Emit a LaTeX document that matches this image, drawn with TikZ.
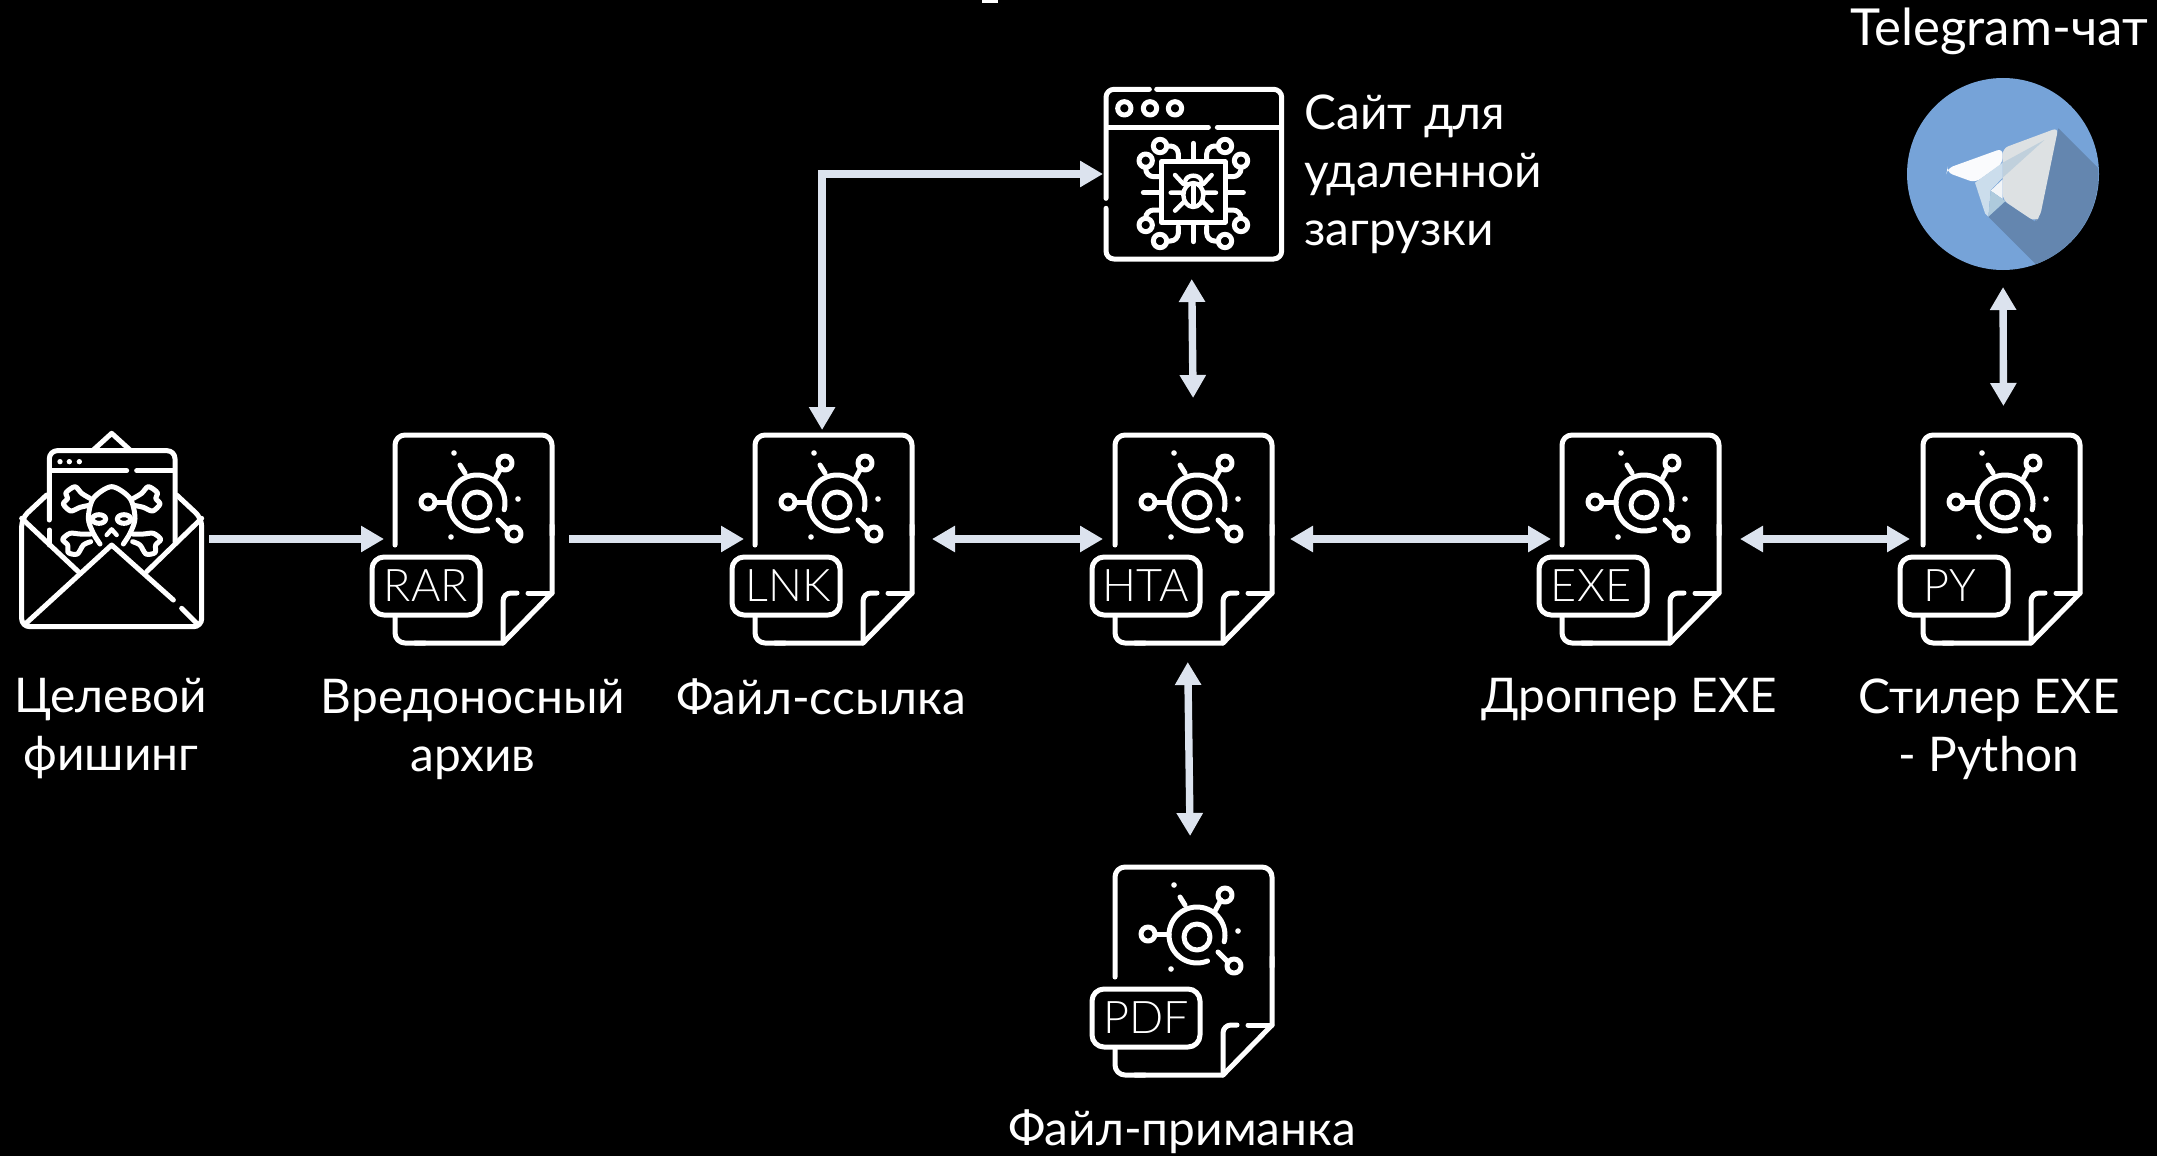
\documentclass[tikz,border=0pt]{standalone}
\usepackage{fontspec}
\usetikzlibrary{arrows.meta}
\setmainfont{Lato}
\newfontfamily\lightf{Lato Light}
\definecolor{flowc}{HTML}{DCE3EE}
\definecolor{tgblue}{HTML}{76A3D8}
\definecolor{tgshadow}{HTML}{6486AF}
\definecolor{tgA}{HTML}{DDE1E3}
\definecolor{tgB}{HTML}{C0D0DC}
\definecolor{tgC}{HTML}{CBDDEC}
\definecolor{tgD}{HTML}{F2F5F8}
\definecolor{tgE}{HTML}{AECADC}
\tikzset{
  ink/.style={draw=white,line width=2.5pt,line cap=round,line join=round},
  thinink/.style={draw=white,line width=2.2pt,line cap=round,line join=round},
  flow/.style={draw=flowc,line width=3.7pt,{Triangle[length=11.5pt,width=12.5pt]}-{Triangle[length=11.5pt,width=12.5pt]}},
  oneway/.style={draw=flowc,line width=3.7pt,-{Triangle[length=11.5pt,width=12.5pt]}},
  iconbox/.style={inner sep=0pt,outer sep=0pt},
  lbl/.style={text=white,font=\fontsize{23.9}{29}\selectfont,align=center,inner sep=0pt},
  tag/.style={text=white,font=\lightf\fontsize{22.5}{26}\selectfont,inner sep=0pt},
}
\newcommand{\fileicon}[5]{%
\begin{scope}[shift={(#2,#3)}]
  \node[iconbox,minimum width=78.5pt,minimum height=104pt] (#1) at (78.5,104) {};
  \draw[ink,rounded corners=5pt] (0,110) -- (0,0) -- (157,0) -- (157,100);
  \draw[ink] (157,90) -- (157,158) -- (108,208) -- (20,208);
  \draw[ink,rounded corners=5pt] (30,208) -- (0,208) -- (0,182);
  \draw[ink,rounded corners=4pt] (122,158) -- (108,158) -- (108,208);
  \draw[ink] (133,158) -- (157,158);
  \draw[ink,rounded corners=6pt] (-23,122) rectangle (85,180);
  \node[tag] (#1tag) at (#5,151) {#4};
  \draw[ink] (82,70) circle[radius=13];
  \draw[ink] plot[domain=-374:-68,samples=50,smooth] ({82+28*cos(\x)},{68-28*sin(\x)});
  \draw[ink] (100,44) -- (106,33);
  \draw[ink] (110,28) circle[radius=7];
  \draw[ink] (103,85) -- (113,95);
  \draw[ink] (119,99) circle[radius=7];
  \draw[ink] (41,67) -- (54,67);
  \draw[ink] (33,67) circle[radius=7];
  \draw[ink] (65,30) -- (70,38);
  \fill[white] (59,18) circle[radius=2.8] (123,64) circle[radius=2.8] (56,102) circle[radius=2.8];
\end{scope}}
\begin{document}
\begin{tikzpicture}[x=0.5pt,y=-0.5pt]
\useasboundingbox (0,0) rectangle (2157,1156);
\fill[black] (0,0) rectangle (2157,1156);
\fill[white] (982,0) rectangle (998,3);

% file icons
\fileicon{rar}{395}{435}{RAR}{31}
\fileicon{lnk}{755}{435}{LNK}{33}
\fileicon{hta}{1115}{435}{HTA}{31}
\fileicon{exe}{1562}{435}{EXE}{29}
\fileicon{py}{1923}{435}{PY}{27}
\fileicon{pdf}{1115}{867}{PDF}{31}

% mail icon
\node[iconbox,minimum width=90pt,minimum height=97pt] (mail) at (112,539) {};
\begin{scope}[shift={(0,430)},x=0.16667pt,y=-0.16667pt]
  \draw[ink,rounded corners=4pt] (140,195) -- (65,265) -- (65,590) -- (605,590) -- (605,265) -- (530,195);
  \draw[ink] (65,265) -- (235,425);
  \draw[ink] (605,265) -- (440,425);
  \draw[ink] (78,580) -- (335,345) -- (520,510);
  \draw[ink] (545,535) -- (590,580);
  \draw[ink,rounded corners=4pt] (148,270) -- (148,62) -- (525,62) -- (525,335);
  \draw[ink] (155,122) -- (380,122);
  \draw[ink] (410,122) -- (520,122);
  \draw[ink] (148,300) -- (148,345);
  \draw[ink] (280,60) -- (335,10) -- (390,60);
  \fill[white] (180,95) circle[radius=8] (208,95) circle[radius=8] (238,95) circle[radius=8];
  \draw[ink] plot[smooth] coordinates {(300,342) (280,310) (265,265) (280,205) (335,170) (390,205) (405,265) (390,310) (370,342)};
  \draw[ink] (297,267) ellipse[x radius=20,y radius=13];
  \draw[ink] (372,267) ellipse[x radius=20,y radius=13];
  \draw[thinink] (320,315) -- (335,298) -- (350,315);
  \foreach \m/\o in {1/0,-1/670}{
  \begin{scope}[shift={(\o,0)},xscale=\m]
  \draw[ink] plot[smooth] coordinates {(268,226) (240,232) (212,243) (190,222) (203,205) (198,188) (225,170) (245,190) (270,205)};
  \draw[ink] plot[smooth] coordinates {(272,312) (240,312) (210,310) (188,328) (203,345) (205,368) (232,372) (250,345) (272,335)};
  \end{scope}}
\end{scope}

% web icon
\node[iconbox,minimum width=88.5pt,minimum height=85pt] (web) at (1193.5,174) {};
\begin{scope}[shift={(1080,60)},x=0.16667pt,y=-0.16667pt]
  \draw[ink,rounded corners=4pt] (230,88) -- (605,88) -- (605,597) -- (78,597) -- (78,445);
  \draw[ink,rounded corners=4pt] (78,415) -- (78,88) -- (208,88);
  \draw[ink] (80,202) -- (385,202);
  \draw[ink] (412,202) -- (600,202);
  \foreach \xx in {133,210,285} \draw[ink] (\xx,145) circle[radius=20];
  \draw[ink] (245,305) rectangle (435,487);
  \draw[ink] (340,250) -- (340,295) (340,497) -- (340,545) (190,398) -- (238,398) (442,398) -- (490,398);
  \foreach \xx/\yy in {240/258,435/258,197/302,483/302,197/495,483/495,240/543,435/543} \draw[ink] (\xx,\yy) circle[radius=20];
  \begin{scope}[rounded corners=4pt]
  \draw[ink] (262,258) -- (295,258) -- (295,300);
  \draw[ink] (380,300) -- (380,258) -- (413,258);
  \draw[ink] (197,325) -- (197,350) -- (240,350);
  \draw[ink] (483,325) -- (483,350) -- (440,350);
  \draw[ink] (197,472) -- (197,450) -- (240,450);
  \draw[ink] (483,472) -- (483,450) -- (440,450);
  \draw[ink] (262,543) -- (295,543) -- (295,500);
  \draw[ink] (413,543) -- (380,543) -- (380,500);
  \end{scope}
  \draw[thinink] (340,405) ellipse[x radius=30,y radius=36];
  \draw[thinink] (340,378) -- (340,438);
  \draw[thinink] (312,372) -- (368,372);
  \draw[thinink] (316,362) .. controls (322,342) and (358,342) .. (364,362);
  \draw[thinink] (285,345) -- (310,372) (272,398) -- (310,398) (285,452) -- (312,425);
  \draw[thinink] (395,345) -- (370,372) (370,398) -- (408,398) (395,452) -- (368,425);
\end{scope}

% telegram icon
\node[circle,fill=tgblue,inner sep=0pt,outer sep=0pt,minimum size=96pt] (tg) at (2003,174) {};
\begin{scope}[shift={(1860,0)},x=0.16667pt,y=-0.16667pt]
  \begin{scope}
  \clip (428,523) circle[radius=287];
  \fill[tgshadow] (595,385) -- (830,620) -- (830,900) -- (640,905) -- (385,650) -- (435,605) -- (525,665) -- cycle;
  \end{scope}
  \fill[white!96!tgblue,rounded corners=3pt] (428,445) -- (262,505) -- (260,517) -- (345,548) -- (428,490) -- cycle;
  \fill[tgA,rounded corners=3pt] (428,445) -- (595,383) -- (540,650) -- (525,665) -- (428,600) -- cycle;
  \fill[tgB] (428,488) -- (553,420) -- (428,533) -- cycle;
  \fill[tgC] (345,548) -- (428,488) -- (428,533) -- (392,570) -- (385,650) -- (375,640) -- cycle;
  \fill[tgD] (392,572) -- (428,538) -- (428,597) -- cycle;
  \fill[tgE] (392,572) -- (436,603) -- (385,650) -- cycle;
\end{scope}

% connectors
\draw[oneway,shorten <=3.5pt,shorten >=5.5pt] (mail.east) -- (rar.west);
\draw[oneway,shorten <=8.5pt,shorten >=5.5pt] (rar.east) -- (lnk.west);
\draw[flow,shorten <=10pt,shorten >=6pt] (lnk.east) -- (hta.west);
\draw[flow,shorten <=9pt,shorten >=5.5pt] (hta.east) -- (exe.west);
\draw[flow,shorten <=10.5pt,shorten >=6.5pt] (exe.east) -- (py.west);
\draw[flow,shorten <=2.5pt,shorten >=1pt] ([xshift=-5.7pt]lnk.north) |- (web.west);
\draw[flow,shorten <=10pt,shorten >=18.5pt] ([xshift=-1pt]web.south) -- (hta.north);
\draw[flow,shorten <=9.5pt,shorten >=15.5pt] ([xshift=-3pt]hta.south) -- ([xshift=-1.5pt]pdf.north);
\draw[flow,shorten <=14.5pt,shorten >=8.5pt] ([xshift=1pt]py.north) -- (tg.south);

% labels
\node[lbl] (l1) at (111,729) {Целевой\\фишинг};
\node[lbl] (l2) at (473,729) {Вредоносный\\архив};
\node[lbl] (l3) at (821,697) {Файл-ссылка};
\node[lbl] (l4) at (1629,700) {Дроппер EXE};
\node[lbl] (l5) at (1989,729) {Стилер EXE\\- Python};
\node[lbl] (l6) at (1182,1132) {Файл-приманка};
\node[lbl,font=\fontsize{25.5}{29}\selectfont] (l7) at (1999,31) {Telegram-чат};
\node[lbl,align=left,anchor=west] (l8) at (1304,174) {Сайт для\\удаленной\\загрузки};
\end{tikzpicture}
\end{document}
